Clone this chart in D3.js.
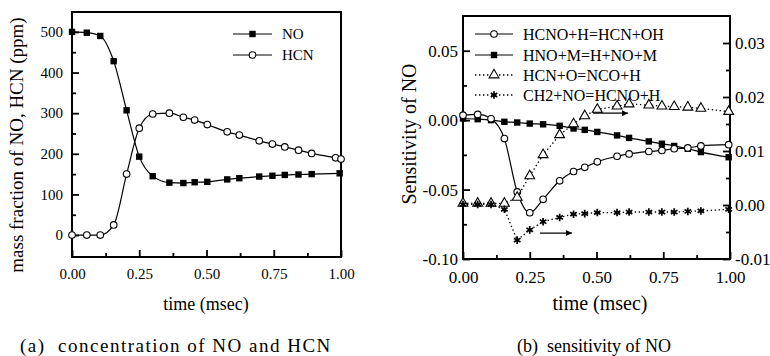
<!DOCTYPE html>
<html>
<head>
<meta charset="utf-8">
<script src="https://cdn.jsdelivr.net/npm/d3@7"></script>
<style>
body { margin: 0; background: white; }
svg text { font-family: "Liberation Serif", "Times New Roman", serif; fill: black; }
</style>
</head>
<body>
<div id="fig"></div>
<script>
// sample times (msec)
var times = [0, 0.055, 0.105, 0.155, 0.203, 0.25, 0.3, 0.362, 0.414, 0.456, 0.503, 0.577, 0.622, 0.696, 0.745, 0.791, 0.842, 0.891, 0.995];
var hcnTimes = [0, 0.055, 0.105, 0.155, 0.203, 0.25, 0.3, 0.362, 0.414, 0.456, 0.503, 0.577, 0.622, 0.696, 0.745, 0.791, 0.842, 0.891, 0.98, 1.0];

// (a) concentration, ppm
var noPpm  = [500, 498, 490, 428, 307, 193, 145, 129, 128, 130, 131, 137, 140, 144, 146, 148, 149, 150, 152];
var hcnPpm = [0, 0, 0, 25, 150, 263, 298, 300, 290, 283, 272, 254, 246, 232, 224, 217, 209, 201, 190, 187];

// (b) sensitivity of NO
var hcnoH  = [0.0036, 0.0041, 0.001, -0.0133, -0.0517, -0.0667, -0.057, -0.0437, -0.037, -0.034, -0.030, -0.026, -0.0243, -0.0226, -0.0218, -0.0206, -0.020, -0.0186, -0.0177];
var hnoM   = [0.0012, 0.0007, 0.0, -0.0012, -0.0017, -0.0025, -0.003, -0.0041, -0.006, -0.007, -0.0085, -0.011, -0.0128, -0.0153, -0.017, -0.0186, -0.0206, -0.023, -0.0267];
// these two are read on the right axis
var hcnO   = [0.0003, 0.0003, 0.0003, 0.0003, 0.0014, 0.0054, 0.0093, 0.013, 0.015, 0.0165, 0.0177, 0.0183, 0.0187, 0.0185, 0.0183, 0.0182, 0.0181, 0.0179, 0.0173];
var ch2No  = [0.0001, 0.0001, 0.0001, -0.0008, -0.0065, -0.0046, -0.0031, -0.0023, -0.0017, -0.0016, -0.0014, -0.0014, -0.0013, -0.0013, -0.0013, -0.0013, -0.0012, -0.0011, -0.0008];

var timeTicks = [0, 0.25, 0.5, 0.75, 1];
var timeMinor = [0.125, 0.375, 0.625, 0.875];
var ppmTicks = [0, 100, 200, 300, 400, 500];
var ppmMinor = [50, 150, 250, 350, 450];
var sensTicks = [-0.1, -0.05, 0, 0.05];
var sensMinor = [-0.075, -0.025, 0.025];
var rightTicks = [-0.01, 0, 0.01, 0.02, 0.03];
var rightMinor = [-0.005, 0.005, 0.015, 0.025];

var svgWidth = 770;
var svgHeight = 356;

var svg = d3.select( "#fig")
    .append( "svg")
    .attr( "width", svgWidth)
    .attr( "height", svgHeight);

svg.append( "rect")
    .attr( "width", svgWidth)
    .attr( "height", svgHeight)
    .attr( "fill", "white");

function styleAxis( g, fontSize) {
    g.select( ".domain").remove();
    g.selectAll( "line").attr( "stroke", "black").attr( "stroke-width", 1.8);
    g.selectAll( "text")
        .attr( "font-family", "Liberation Serif, serif")
        .attr( "font-size", fontSize)
        .attr( "fill", "black");
}

function marker( g, kind, x, y) {
    if (kind === "square") {
        g.append( "rect")
            .attr( "x", x - 3.2).attr( "y", y - 3.2)
            .attr( "width", 6.4).attr( "height", 6.4)
            .attr( "fill", "black");
    }
    else if (kind === "circle") {
        g.append( "circle")
            .attr( "cx", x).attr( "cy", y).attr( "r", 3.3)
            .attr( "fill", "white").attr( "stroke", "black").attr( "stroke-width", 1.1);
    }
    else if (kind === "triangle") {
        g.append( "path")
            .attr( "d", d3.symbol().type( d3.symbolTriangle).size( 42)())
            .attr( "transform", `translate(${x}, ${y})`)
            .attr( "fill", "white").attr( "stroke", "black").attr( "stroke-width", 1.1);
    }
    else {
        g.append( "path")
            .attr( "d", d3.symbol().type( d3.symbolAsterisk).size( 40)())
            .attr( "transform", `translate(${x}, ${y})`)
            .attr( "fill", "none").attr( "stroke", "black").attr( "stroke-width", 1.7);
    }
}

function drawSeries( g, xs, ys, xScale, yScale, kind, dash, curve) {
    var pts = xs.map( (t, i) => [t, ys[i]]);
    var line = d3.line()
        .x( d => xScale( d[0]))
        .y( d => yScale( d[1]))
        .curve( curve);
    g.append( "path")
        .attr( "d", line( pts))
        .attr( "fill", "none")
        .attr( "stroke", "black")
        .attr( "stroke-width", dash ? 1.3 : 1.2)
        .attr( "stroke-dasharray", dash ? "1.4,2.6" : null);
    pts.forEach( d => marker( g, kind, xScale( d[0]), yScale( d[1])));
}

function legendRow( g, x0, x1, y, kind, dash, label, fontSize, textX) {
    g.append( "line")
        .attr( "x1", x0).attr( "x2", x1)
        .attr( "y1", y).attr( "y2", y)
        .attr( "stroke", "black")
        .attr( "stroke-width", dash ? 1.3 : 1.1)
        .attr( "stroke-dasharray", dash ? "1.4,2.6" : null);
    marker( g, kind, (x0 + x1) / 2, y);
    g.append( "text")
        .attr( "x", textX)
        .attr( "y", y + fontSize * 0.35)
        .attr( "font-size", fontSize)
        .text( label);
}

// ---------- (a) concentration of NO and HCN ----------
var aLeft = 72, aRight = 341, aTop = 12, aBottom = 257;

var xA = d3.scaleLinear().domain([0, 1]).range([aLeft, aRight]);
var yA = d3.scaleLinear().domain([-54, 549]).range([aBottom, aTop]);

var chartA = svg.append( "g");

var xAxisA = chartA.append( "g")
    .attr( "transform", `translate(0, ${aBottom})`)
    .call( d3.axisBottom( xA).tickValues( timeTicks).tickSizeInner( -7).tickSizeOuter( 0).tickPadding( 11).tickFormat( d3.format( ".2f")));
styleAxis( xAxisA, 15);

var xMinorA = chartA.append( "g")
    .attr( "transform", `translate(0, ${aBottom})`)
    .call( d3.axisBottom( xA).tickValues( timeMinor).tickSizeInner( -4).tickSizeOuter( 0).tickFormat( ""));
styleAxis( xMinorA, 15);

var yAxisA = chartA.append( "g")
    .attr( "transform", `translate(${aLeft}, 0)`)
    .call( d3.axisLeft( yA).tickValues( ppmTicks).tickSizeInner( -7).tickSizeOuter( 0).tickPadding( 9));
styleAxis( yAxisA, 15);

var yMinorA = chartA.append( "g")
    .attr( "transform", `translate(${aLeft}, 0)`)
    .call( d3.axisLeft( yA).tickValues( ppmMinor).tickSizeInner( -4).tickSizeOuter( 0).tickFormat( ""));
styleAxis( yMinorA, 15);

chartA.append( "rect")
    .attr( "x", aLeft).attr( "y", aTop)
    .attr( "width", aRight - aLeft).attr( "height", aBottom - aTop)
    .attr( "fill", "none").attr( "stroke", "black").attr( "stroke-width", 2);

drawSeries( chartA, times, noPpm, xA, yA, "square", false, d3.curveMonotoneX);
drawSeries( chartA, hcnTimes, hcnPpm, xA, yA, "circle", false, d3.curveMonotoneX);

legendRow( chartA, 233, 272, 34, "square", false, "NO", 15, 282);
legendRow( chartA, 233, 272, 55, "circle", false, "HCN", 15, 282);

chartA.append( "text")
    .attr( "transform", "rotate(-90)")
    .attr( "x", -145)
    .attr( "y", 23)
    .attr( "text-anchor", "middle")
    .attr( "font-size", 19)
    .text( "mass fraction of NO, HCN (ppm)");

chartA.append( "text")
    .attr( "x", 206)
    .attr( "y", 310)
    .attr( "text-anchor", "middle")
    .attr( "font-size", 18)
    .text( "time (msec)");

chartA.append( "text")
    .attr( "x", 20)
    .attr( "y", 352)
    .attr( "font-size", 19)
    .attr( "letter-spacing", 1.5)
    .attr( "xml:space", "preserve")
    .text( "(a)  concentration of NO and HCN");

// ---------- (b) sensitivity of NO ----------
var bLeft = 463, bRight = 730, bTop = 16, bBottom = 259;

var xB = d3.scaleLinear().domain([0, 1]).range([bLeft, bRight]);
var yB = d3.scaleLinear().domain([-0.1, 0.075]).range([bBottom, bTop]);
var yB2 = d3.scaleLinear().domain([-0.01, 0.035]).range([bBottom, bTop]);

var chartB = svg.append( "g");

var xAxisB = chartB.append( "g")
    .attr( "transform", `translate(0, ${bBottom})`)
    .call( d3.axisBottom( xB).tickValues( timeTicks).tickSizeInner( -7).tickSizeOuter( 0).tickPadding( 12).tickFormat( d3.format( ".2f")));
styleAxis( xAxisB, 17);

var xMinorB = chartB.append( "g")
    .attr( "transform", `translate(0, ${bBottom})`)
    .call( d3.axisBottom( xB).tickValues( timeMinor).tickSizeInner( -4).tickSizeOuter( 0).tickFormat( ""));
styleAxis( xMinorB, 17);

var yAxisB = chartB.append( "g")
    .attr( "transform", `translate(${bLeft}, 0)`)
    .call( d3.axisLeft( yB).tickValues( sensTicks).tickSizeInner( -7).tickSizeOuter( 0).tickPadding( 5).tickFormat( d => d.toFixed( 2)));
styleAxis( yAxisB, 17);

var yMinorB = chartB.append( "g")
    .attr( "transform", `translate(${bLeft}, 0)`)
    .call( d3.axisLeft( yB).tickValues( sensMinor).tickSizeInner( -4).tickSizeOuter( 0).tickFormat( ""));
styleAxis( yMinorB, 17);

var yAxisB2 = chartB.append( "g")
    .attr( "transform", `translate(${bRight}, 0)`)
    .call( d3.axisRight( yB2).tickValues( rightTicks).tickSizeInner( -7).tickSizeOuter( 0).tickPadding( 5).tickFormat( d => d.toFixed( 2)));
styleAxis( yAxisB2, 17);

var yMinorB2 = chartB.append( "g")
    .attr( "transform", `translate(${bRight}, 0)`)
    .call( d3.axisRight( yB2).tickValues( rightMinor).tickSizeInner( -4).tickSizeOuter( 0).tickFormat( ""));
styleAxis( yMinorB2, 17);

chartB.append( "rect")
    .attr( "x", bLeft).attr( "y", bTop)
    .attr( "width", bRight - bLeft).attr( "height", bBottom - bTop)
    .attr( "fill", "none").attr( "stroke", "black").attr( "stroke-width", 2);

drawSeries( chartB, times, hnoM, xB, yB, "square", false, d3.curveMonotoneX);
drawSeries( chartB, times, hcnoH, xB, yB, "circle", false, d3.curveMonotoneX);
drawSeries( chartB, times, hcnO, xB, yB2, "triangle", true, d3.curveLinear);
drawSeries( chartB, times, ch2No, xB, yB2, "star", true, d3.curveLinear);

// arrows pointing to the right-hand axis
chartB.append( "defs").append( "marker")
    .attr( "id", "arrow")
    .attr( "viewBox", "0 0 10 10")
    .attr( "refX", 10).attr( "refY", 5)
    .attr( "markerWidth", 10).attr( "markerHeight", 6)
    .attr( "markerUnits", "userSpaceOnUse")
    .attr( "orient", "auto")
    .append( "path")
    .attr( "d", "M0,0 L10,5 L0,10 Z")
    .attr( "fill", "black");

var arrows = [[0.487, 0.618, 0.017], [0.288, 0.408, -0.0052]];
arrows.forEach( function( a) {
    chartB.append( "line")
        .attr( "x1", xB( a[0])).attr( "x2", xB( a[1]))
        .attr( "y1", yB2( a[2])).attr( "y2", yB2( a[2]))
        .attr( "stroke", "black").attr( "stroke-width", 1.2)
        .attr( "marker-end", "url(#arrow)");
});

legendRow( chartB, 475, 513, 34, "circle", false, "HCNO+H=HCN+OH", 16, 523);
legendRow( chartB, 475, 513, 55, "square", false, "HNO+M=H+NO+M", 16, 523);
legendRow( chartB, 475, 513, 75, "triangle", true, "HCN+O=NCO+H", 16, 523);
legendRow( chartB, 475, 513, 95, "star", true, "CH2+NO=HCNO+H", 16, 523);

chartB.append( "text")
    .attr( "transform", "rotate(-90)")
    .attr( "x", -134)
    .attr( "y", 416)
    .attr( "text-anchor", "middle")
    .attr( "font-size", 20)
    .text( "Sensitivity of NO");

chartB.append( "text")
    .attr( "x", 600)
    .attr( "y", 310)
    .attr( "text-anchor", "middle")
    .attr( "font-size", 20)
    .text( "time (msec)");

chartB.append( "text")
    .attr( "x", 517)
    .attr( "y", 352)
    .attr( "font-size", 18)
    .attr( "xml:space", "preserve")
    .text( "(b)  sensitivity of NO");
</script>
</body>
</html>
